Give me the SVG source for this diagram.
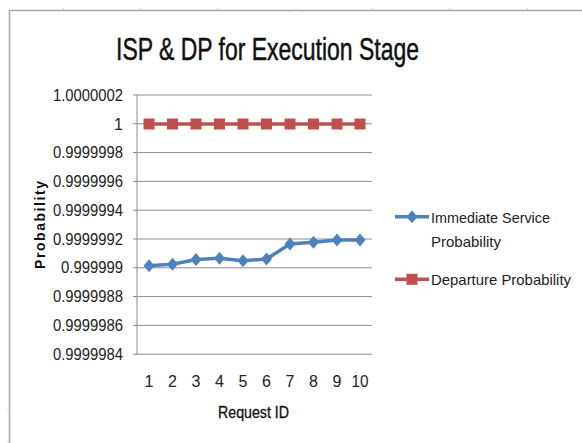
<svg xmlns="http://www.w3.org/2000/svg" width="582" height="443" viewBox="0 0 582 443">
<style>
.grid{stroke:#8c8c8c;stroke-width:1;fill:none}
.tick{font-family:"Liberation Sans",Arial,sans-serif;font-size:16px;fill:#222}
.title{font-family:"Liberation Sans",Arial,sans-serif;font-size:32px;fill:#111;stroke:#111;stroke-width:0.5}
.leg{font-family:"Liberation Sans",Arial,sans-serif;font-size:15px;fill:#222}
.isp{stroke:#4f81bd;stroke-width:3.5;fill:none;stroke-linejoin:round}
.dp{stroke:#c0504d;stroke-width:3.5;fill:none}
.dia{fill:#4f81bd}
.sq{fill:#c0504d}
.frame{stroke:#a6a6a6;stroke-width:1.5;fill:none}
</style>
<defs>
<path id="dmd" d="M0,-6.5 L5.5,0 L0,6.5 L-5.5,0 Z"/>
<rect id="sqm" x="-5.5" y="-5.5" width="11" height="11"/>
</defs>
<rect x="0" y="0" width="582" height="443" fill="#ffffff"/>
<g id="frame">
<path class="frame" d="M9.5,443 V10.5 H582"/>
<path d="M63,8 V10 M141,8 V10 M218,8 V10 M296,8 V10 M373,8 V10 M450,8 V10 M527,8 V10 M7,411 H9 M7,441 H9" stroke="#d0d0d0" stroke-width="1"/>
</g>
<text id="title" class="title" x="267.5" y="60" text-anchor="middle" textLength="303" lengthAdjust="spacingAndGlyphs">ISP &amp; DP for Execution Stage</text>
<g id="gridlines">
<path class="grid" d="M133,95 H372 M133,123.8 H372 M133,152.6 H372 M133,181.4 H372 M133,210.2 H372 M133,239 H372 M133,267.8 H372 M133,296.6 H372 M133,325.4 H372 M133,354.2 H372 M137,95 V354.2"/>
</g>
<g id="yaxis-labels" class="tick" text-anchor="end">
<text x="123" y="100.5" textLength="70" lengthAdjust="spacingAndGlyphs">1.0000002</text>
<text x="123" y="129.5">1</text>
<text x="123" y="158.2" textLength="70" lengthAdjust="spacingAndGlyphs">0.9999998</text>
<text x="123" y="187" textLength="70" lengthAdjust="spacingAndGlyphs">0.9999996</text>
<text x="123" y="215.8" textLength="70" lengthAdjust="spacingAndGlyphs">0.9999994</text>
<text x="123" y="244.6" textLength="70" lengthAdjust="spacingAndGlyphs">0.9999992</text>
<text x="123" y="273.4" textLength="62" lengthAdjust="spacingAndGlyphs">0.999999</text>
<text x="123" y="302.2" textLength="70" lengthAdjust="spacingAndGlyphs">0.9999988</text>
<text x="123" y="331" textLength="70" lengthAdjust="spacingAndGlyphs">0.9999986</text>
<text x="123" y="359.8" textLength="70" lengthAdjust="spacingAndGlyphs">0.9999984</text>
</g>
<g id="xaxis-labels" class="tick" text-anchor="middle">
<text x="149" y="387">1</text>
<text x="172.5" y="387">2</text>
<text x="196" y="387">3</text>
<text x="219.5" y="387">4</text>
<text x="243" y="387">5</text>
<text x="266.5" y="387">6</text>
<text x="290" y="387">7</text>
<text x="313.5" y="387">8</text>
<text x="337" y="387">9</text>
<text x="360" y="387" textLength="17" lengthAdjust="spacingAndGlyphs">10</text>
</g>
<text id="xaxis-title" x="253.5" y="418" text-anchor="middle" font-family="'Liberation Sans',Arial,sans-serif" font-size="16" fill="#111" stroke="#111" stroke-width="0.3" textLength="71" lengthAdjust="spacingAndGlyphs">Request ID</text>
<text id="yaxis-title" transform="translate(45,225) rotate(-90)" text-anchor="middle" font-family="'Liberation Sans',Arial,sans-serif" font-size="14" font-weight="bold" fill="#111" textLength="88" lengthAdjust="spacing">Probability</text>
<g id="series-dp">
<path class="dp" d="M149,124 H360"/>
<use href="#sqm" class="sq" x="149" y="124"/>
<use href="#sqm" class="sq" x="172.5" y="124"/>
<use href="#sqm" class="sq" x="196" y="124"/>
<use href="#sqm" class="sq" x="219.5" y="124"/>
<use href="#sqm" class="sq" x="243" y="124"/>
<use href="#sqm" class="sq" x="266.5" y="124"/>
<use href="#sqm" class="sq" x="290" y="124"/>
<use href="#sqm" class="sq" x="313.5" y="124"/>
<use href="#sqm" class="sq" x="337" y="124"/>
<use href="#sqm" class="sq" x="360" y="124"/>
</g>
<g id="series-isp">
<path class="isp" d="M149,265.7 L172.5,264.3 L196,259.5 L219.5,258.3 L243,260.7 L266.5,259 L290,244 L313.5,242.3 L337,240 L360,240"/>
<use href="#dmd" class="dia" x="149" y="265.7"/>
<use href="#dmd" class="dia" x="172.5" y="264.3"/>
<use href="#dmd" class="dia" x="196" y="259.5"/>
<use href="#dmd" class="dia" x="219.5" y="258.3"/>
<use href="#dmd" class="dia" x="243" y="260.7"/>
<use href="#dmd" class="dia" x="266.5" y="259"/>
<use href="#dmd" class="dia" x="290" y="244"/>
<use href="#dmd" class="dia" x="313.5" y="242.3"/>
<use href="#dmd" class="dia" x="337" y="240"/>
<use href="#dmd" class="dia" x="360" y="240"/>
</g>
<g id="legend">
<path class="isp" d="M395,216.7 H429"/>
<use href="#dmd" class="dia" x="412" y="216.7"/>
<text class="leg" x="431" y="223" textLength="119" lengthAdjust="spacingAndGlyphs">Immediate Service</text>
<text class="leg" x="431" y="247" textLength="70" lengthAdjust="spacingAndGlyphs">Probability</text>
<path class="dp" d="M395,279.3 H429"/>
<use href="#sqm" class="sq" x="412" y="279.3"/>
<text class="leg" x="431" y="284.5" textLength="140" lengthAdjust="spacingAndGlyphs">Departure Probability</text>
</g>
</svg>
